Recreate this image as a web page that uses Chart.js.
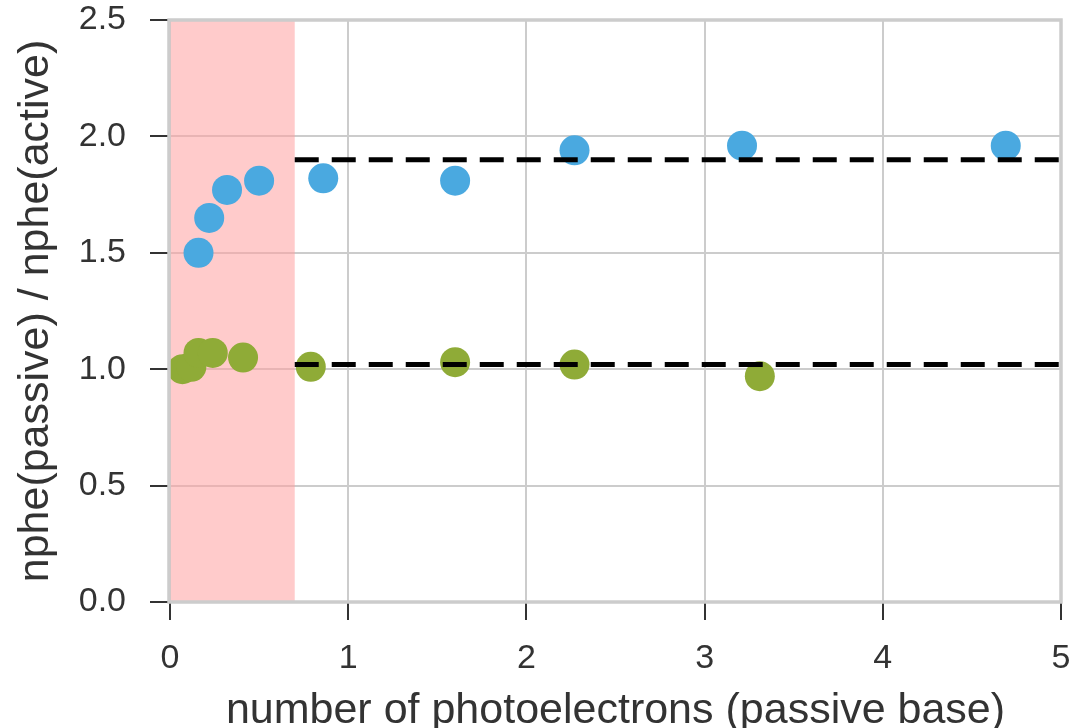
<!DOCTYPE html>
<html>
<head>
<meta charset="utf-8">
<script src="https://cdn.jsdelivr.net/npm/chart.js@4/dist/chart.umd.min.js"></script>
<style>
  html, body { margin: 0; padding: 0; background: #fff; }
  #wrap { width: 1083px; height: 728px; }
</style>
</head>
<body>
<div id="wrap"><canvas id="chart1"></canvas></div>
<script>
'use strict';

// measured ratios, passive / active base
var blueX = [0.16, 0.22, 0.32, 0.50, 0.86, 1.60, 2.27, 3.21, 4.69];
var blueY = [1.50, 1.65, 1.77, 1.81, 1.82, 1.81, 1.94, 1.96, 1.96];
var greenX = [0.07, 0.12, 0.16, 0.24, 0.41, 0.79, 1.60, 2.27, 3.31];
var greenY = [1.00, 1.01, 1.07, 1.07, 1.05, 1.01, 1.03, 1.02, 0.97];

// plateau levels, fitted above the cut
var fitStart = 0.7;
var fitEnd = 5;
var blueLevel = 1.90;
var greenLevel = 1.02;

// excluded low-npe region
var spanStart = 0;
var spanEnd = 0.7;

var xTicks = [0, 1, 2, 3, 4, 5];
var yTicks = [0.0, 0.5, 1.0, 1.5, 2.0, 2.5];

var BLUE = '#4aa9e0';
var GREEN = '#8fab37';
var FONT = "'Liberation Sans', Arial, sans-serif";

var toPoints = function(xs, ys) {
	return xs.map(function(x, i) { return {x: x, y: ys[i]}; });
};

// shaded span behind the points, plus the box around the plot
var spanPlugin = {
	id: 'span',
	beforeDatasetsDraw: function(chart) {
		var ctx = chart.ctx;
		var xs = chart.scales.x, ys = chart.scales.y;
		var left = xs.getPixelForValue(spanStart);
		var right = xs.getPixelForValue(spanEnd);
		ctx.save();
		ctx.fillStyle = 'rgba(255, 160, 160, 0.55)';
		ctx.fillRect(left, ys.top, right - left, ys.bottom - ys.top);
		ctx.restore();
	},
	afterDraw: function(chart) {
		var ctx = chart.ctx;
		var a = chart.chartArea;
		ctx.save();
		ctx.strokeStyle = '#cccccc';
		ctx.lineWidth = 3.5;
		ctx.strokeRect(a.left - 1, a.top, a.right - a.left + 1, a.bottom - a.top);
		ctx.restore();
	}
};

var ctx = document.getElementById('chart1').getContext('2d');
var chart = new Chart(ctx, {
	type: 'scatter',
	data: {
		datasets: [{
			label: 'fit high',
			type: 'line',
			data: [{x: fitStart, y: blueLevel}, {x: fitEnd, y: blueLevel}],
			borderColor: '#000',
			borderWidth: 5,
			borderDash: [24, 13],
			pointRadius: 0,
			order: 0
		}, {
			label: 'fit low',
			type: 'line',
			data: [{x: fitStart, y: greenLevel}, {x: fitEnd, y: greenLevel}],
			borderColor: '#000',
			borderWidth: 5,
			borderDash: [24, 13],
			pointRadius: 0,
			order: 0
		}, {
			label: 'blue',
			data: toPoints(blueX, blueY),
			backgroundColor: BLUE,
			borderWidth: 0,
			pointRadius: 15,
			order: 1
		}, {
			label: 'green',
			data: toPoints(greenX, greenY),
			backgroundColor: GREEN,
			borderWidth: 0,
			pointRadius: 15,
			order: 1
		}]
	},
	options: {
		responsive: true,
		maintainAspectRatio: false,
		animation: false,
		layout: {
			padding: {left: 0, right: 22, top: 20, bottom: 0}
		},
		plugins: {
			legend: {display: false},
			tooltip: {enabled: false}
		},
		scales: {
			x: {
				type: 'linear',
				min: 0,
				max: 5,
				afterBuildTicks: function(scale) {
					scale.ticks = xTicks.map(function(v) { return {value: v}; });
				},
				afterFit: function(scale) {
					scale.height = 126;
					scale.paddingLeft = 0;
					scale.paddingRight = 0;
				},
				grid: {
					color: '#cccccc',
					lineWidth: 2,
					tickColor: '#333',
					tickLength: 18,
					tickWidth: 2
				},
				border: {display: false},
				ticks: {
					color: '#333',
					font: {family: FONT, size: 34},
					padding: 18,
					callback: function(v) { return String(v); }
				},
				title: {
					display: true,
					text: 'number of photoelectrons (passive base)',
					color: '#333',
					font: {family: FONT, size: 43, lineHeight: 0.8},
					padding: {top: 0, bottom: 0}
				}
			},
			y: {
				type: 'linear',
				min: 0,
				max: 2.5,
				afterBuildTicks: function(scale) {
					scale.ticks = yTicks.map(function(v) { return {value: v}; });
				},
				afterFit: function(scale) {
					scale.width = 170;
					scale.paddingTop = 0;
					scale.paddingBottom = 0;
				},
				grid: {
					color: '#cccccc',
					lineWidth: 2,
					tickColor: '#333',
					tickLength: 20,
					tickWidth: 2
				},
				border: {display: false},
				ticks: {
					color: '#333',
					font: {family: FONT, size: 34},
					padding: 24,
					callback: function(v) { return v.toFixed(1); }
				},
				title: {
					display: true,
					text: 'nphe(passive) / nphe(active)',
					color: '#333',
					font: {family: FONT, size: 43, lineHeight: 0.8},
					padding: {top: 19, bottom: 0}
				}
			}
		}
	},
	plugins: [spanPlugin]
});
</script>
</body>
</html>
